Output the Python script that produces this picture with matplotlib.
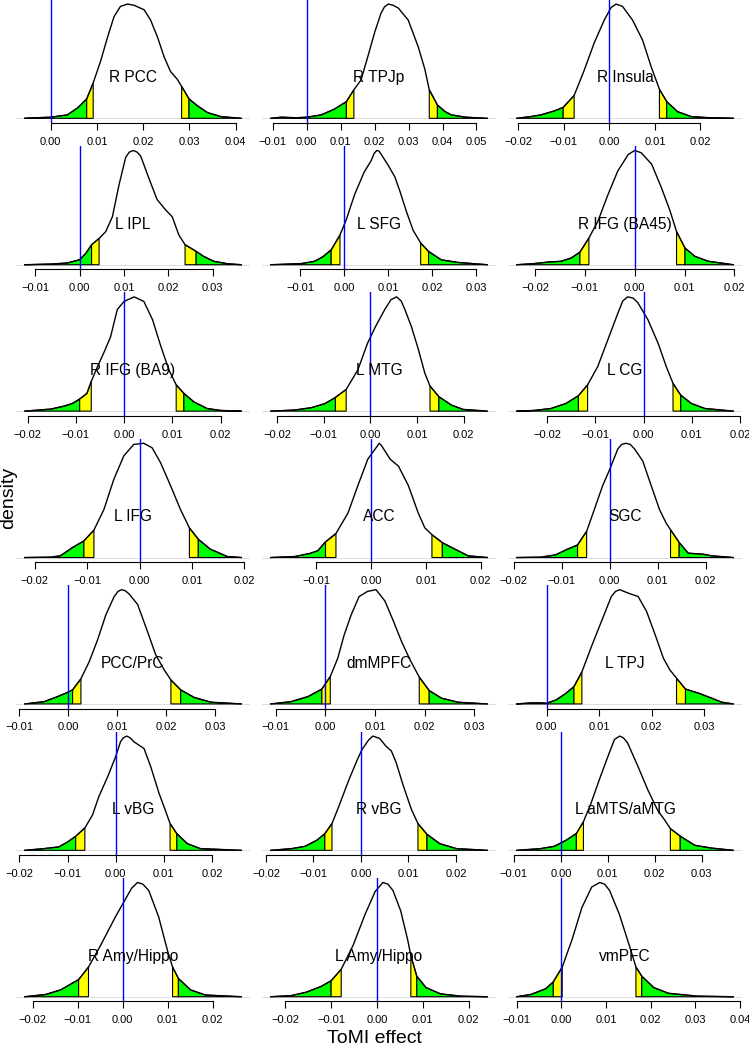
import numpy as np
import matplotlib
matplotlib.use("Agg")
import matplotlib.pyplot as plt
from matplotlib.ticker import FuncFormatter

plt.rcParams["font.family"] = ["Liberation Sans", "DejaVu Sans"]

# region labels, in reading order (3 per row)
labels = ["R PCC", "R TPJp", "R Insula", "L IPL", "L SFG", "R IFG (BA45)",
          "R IFG (BA9)", "L MTG", "L CG", "L IFG", "ACC", "SGC",
          "PCC/PrC", "dmMPFC", "L TPJ", "L vBG", "R vBG", "L aMTS/aMTG",
          "R Amy/Hippo", "L Amy/Hippo", "vmPFC"]

# observed effect (blue line)
observed = [0.0] * 21

# tail cut points: green | yellow ... yellow | green
q025 = [0.0078, 0.0117, -0.0101, 0.0027, -0.0030, -0.0110, -0.0092, -0.0075, -0.0135, -0.0106, -0.0083,
        -0.0067, 0.0009, -0.0007, 0.0052, -0.0083, -0.0076, 0.0033, -0.0098, -0.0100, -0.0018]
q05 = [0.0092, 0.0139, -0.0077, 0.0044, -0.0010, -0.0092, -0.0068, -0.0052, -0.0116, -0.0087, -0.0064,
       -0.0048, 0.0026, 0.0010, 0.0067, -0.0064, -0.0061, 0.0048, -0.0076, -0.0078, 0.0002]
q95 = [0.0283, 0.0361, 0.0110, 0.0238, 0.0174, 0.0084, 0.0108, 0.0128, 0.0061, 0.0095, 0.0111,
       0.0127, 0.0210, 0.0189, 0.0247, 0.0113, 0.0120, 0.0233, 0.0111, 0.0074, 0.0167]
q975 = [0.0299, 0.0385, 0.0126, 0.0263, 0.0192, 0.0101, 0.0124, 0.0147, 0.0077, 0.0112, 0.0130,
        0.0145, 0.0230, 0.0209, 0.0264, 0.0127, 0.0139, 0.0254, 0.0124, 0.0087, 0.0180]

# density curves (relative height, peak = 1)
R_PCC_X = [-0.0056, -0.0030, 0.0, 0.0036, 0.0058, 0.0078, 0.0092, 0.0108, 0.0123, 0.0137, 0.0151, 0.0166, 0.0180,
           0.0202, 0.0216, 0.0231, 0.0245, 0.0259, 0.0274, 0.0283, 0.0299, 0.0317, 0.0339, 0.0368, 0.0412]
R_PCC_D = [0, 0.005, 0.01, 0.03, 0.09, 0.17, 0.31, 0.50, 0.71, 0.89, 0.98, 1.0, 0.99,
           0.95, 0.86, 0.71, 0.54, 0.41, 0.34, 0.28, 0.17, 0.11, 0.05, 0.015, 0]

R_TPJP_X = [-0.0106, -0.0074, -0.0030, 0.0, 0.0043, 0.0081, 0.0117, 0.0139, 0.0160, 0.0181, 0.0201, 0.0219, 0.0229,
            0.0240, 0.0254, 0.0270, 0.0299, 0.0328, 0.0348, 0.0361, 0.0385, 0.0407, 0.0426, 0.0468, 0.0532]
R_TPJP_D = [0, 0.01, 0.005, 0.01, 0.03, 0.08, 0.146, 0.25, 0.335, 0.55, 0.76, 0.92, 0.975,
            1.0, 0.99, 0.965, 0.86, 0.63, 0.43, 0.25, 0.117, 0.06, 0.03, 0.01, 0]

R_INSULA_X = [-0.0203, -0.0173, -0.0150, -0.0121, -0.0101, -0.0077, -0.0055, -0.0033, -0.0011, 0.0004, 0.0015,
              0.0029, 0.0051, 0.0073, 0.0092, 0.0110, 0.0126, 0.0150, 0.0180, 0.0217, 0.0272]
R_INSULA_D = [0, 0.015, 0.03, 0.064, 0.096, 0.20, 0.42, 0.66, 0.86, 0.97, 1.0,
              0.98, 0.86, 0.685, 0.45, 0.254, 0.146, 0.058, 0.015, 0.006, 0]

L_IPL_X = [-0.0124, -0.0065, -0.0028, 0.0, 0.0014, 0.0027, 0.0044, 0.0059, 0.0074, 0.0089, 0.0104, 0.0112, 0.0121,
           0.0130, 0.0138, 0.0156, 0.0175, 0.0194, 0.0209, 0.0224, 0.0238, 0.0263, 0.0280, 0.0303, 0.0333, 0.0365]
L_IPL_D = [0, 0.006, 0.015, 0.044, 0.10, 0.175, 0.23, 0.29, 0.42, 0.70, 0.94, 0.985, 1.0,
           0.985, 0.95, 0.76, 0.57, 0.48, 0.42, 0.26, 0.175, 0.117, 0.073, 0.03, 0.009, 0]

L_SFG_X = [-0.0168, -0.0098, -0.0068, -0.0049, -0.0030, -0.0010, 0.0004, 0.0023, 0.0045, 0.0061, 0.0068, 0.0074,
           0.0079, 0.0085, 0.0100, 0.0115, 0.0127, 0.0142, 0.0157, 0.0174, 0.0192, 0.0221, 0.0259, 0.0326]
L_SFG_D = [0, 0.01, 0.03, 0.07, 0.13, 0.26, 0.39, 0.61, 0.81, 0.91, 0.975, 1.0,
           0.995, 0.96, 0.87, 0.77, 0.64, 0.46, 0.30, 0.19, 0.116, 0.043, 0.02, 0]

R_IFG45_X = [-0.0237, -0.0202, -0.0175, -0.0148, -0.0128, -0.0110, -0.0092, -0.0074, -0.0054, -0.0034, -0.0013,
             0.0, 0.0013, 0.0034, 0.0054, 0.0071, 0.0084, 0.0101, 0.0121, 0.0148, 0.0198]
R_IFG45_D = [0, 0.01, 0.023, 0.03, 0.058, 0.11, 0.234, 0.38, 0.61, 0.82, 0.965,
             1.0, 0.98, 0.88, 0.67, 0.47, 0.29, 0.146, 0.073, 0.03, 0]

R_IFG9_X = [-0.0206, -0.0152, -0.0124, -0.0107, -0.0092, -0.0077, -0.0068, -0.0055, -0.0041, -0.0028, -0.0014,
            0.0, 0.0021, 0.0041, 0.0059, 0.0076, 0.0093, 0.0108, 0.0124, 0.0145, 0.0172, 0.0200, 0.0243]
R_IFG9_D = [0, 0.018, 0.044, 0.067, 0.106, 0.155, 0.26, 0.39, 0.52, 0.65, 0.89,
            0.96, 1.0, 0.96, 0.80, 0.57, 0.36, 0.23, 0.155, 0.08, 0.023, 0.006, 0]

L_MTG_X = [-0.0214, -0.0162, -0.0127, -0.0098, -0.0075, -0.0052, -0.0027, -0.0006, 0.0011, 0.0031, 0.0044,
           0.0056, 0.0066, 0.0074, 0.0088, 0.0103, 0.0117, 0.0128, 0.0147, 0.0174, 0.0199, 0.0251]
L_MTG_D = [0, 0.01, 0.03, 0.065, 0.12, 0.19, 0.36, 0.595, 0.74, 0.89, 0.975,
           1.0, 0.965, 0.89, 0.74, 0.54, 0.33, 0.22, 0.126, 0.053, 0.015, 0]

L_CG_X = [-0.0263, -0.0227, -0.0192, -0.0161, -0.0135, -0.0116, -0.0095, -0.0074, -0.0053, -0.0043, -0.0033,
          -0.0022, -0.0012, 0.0009, 0.0030, 0.0047, 0.0061, 0.0077, 0.0099, 0.0127, 0.0186]
L_CG_D = [0, 0.006, 0.023, 0.067, 0.135, 0.23, 0.39, 0.625, 0.86, 0.965, 1.0,
          0.99, 0.95, 0.80, 0.595, 0.39, 0.243, 0.14, 0.067, 0.023, 0]

L_IFG_X = [-0.0219, -0.0170, -0.0151, -0.0128, -0.0106, -0.0087, -0.0068, -0.0049, -0.0030, -0.0011,
           0.0008, 0.0024, 0.0040, 0.0059, 0.0078, 0.0095, 0.0112, 0.0135, 0.0167, 0.0194]
L_IFG_D = [0, 0.003, 0.015, 0.087, 0.146, 0.24, 0.42, 0.685, 0.89, 0.99,
           1.0, 0.96, 0.83, 0.63, 0.42, 0.26, 0.16, 0.073, 0.009, 0]

ACC_X = [-0.0183, -0.0139, -0.0112, -0.0097, -0.0083, -0.0064, -0.0042, -0.0024, -0.0006, 0.0009, 0.0015,
         0.0019, 0.0035, 0.0050, 0.0068, 0.0086, 0.0098, 0.0111, 0.0130, 0.0153, 0.0177, 0.0212]
ACC_D = [0, 0.009, 0.035, 0.06, 0.137, 0.21, 0.39, 0.63, 0.86, 0.96, 1.0,
         0.98, 0.86, 0.80, 0.63, 0.39, 0.26, 0.20, 0.13, 0.073, 0.015, 0]

SGC_X = [-0.0194, -0.0144, -0.0113, -0.0088, -0.0067, -0.0048, -0.0032, -0.0015, 0.0, 0.0017, 0.0025, 0.0034,
         0.0043, 0.0052, 0.0069, 0.0087, 0.0104, 0.0118, 0.0127, 0.0145, 0.0164, 0.0195, 0.0213, 0.0258]
SGC_D = [0, 0.003, 0.023, 0.073, 0.11, 0.23, 0.42, 0.625, 0.77, 0.95, 0.99, 1.0,
         0.99, 0.95, 0.845, 0.625, 0.42, 0.30, 0.243, 0.132, 0.038, 0.029, 0.015, 0]

PCC_PRC_X = [-0.0089, -0.0049, -0.0022, -0.0005, 0.0009, 0.0026, 0.0043, 0.0060, 0.0077, 0.0094, 0.0102, 0.0109,
             0.0117, 0.0125, 0.0142, 0.0162, 0.0179, 0.0196, 0.0210, 0.0230, 0.0258, 0.0292, 0.0354]
PCC_PRC_D = [0, 0.02, 0.064, 0.094, 0.123, 0.22, 0.37, 0.56, 0.78, 0.94, 0.985, 1.0,
             0.99, 0.96, 0.87, 0.635, 0.43, 0.30, 0.21, 0.123, 0.056, 0.015, 0]

DMMPFC_X = [-0.0110, -0.0069, -0.0035, -0.0007, 0.0010, 0.0025, 0.0038, 0.0052, 0.0068, 0.0085,
            0.0102, 0.0120, 0.0137, 0.0153, 0.0170, 0.0189, 0.0209, 0.0234, 0.0267, 0.0326]
DMMPFC_D = [0, 0.02, 0.064, 0.13, 0.24, 0.40, 0.605, 0.78, 0.94, 0.985,
            1.0, 0.90, 0.725, 0.55, 0.39, 0.235, 0.117, 0.05, 0.015, 0]

L_TPJ_X = [-0.0057, -0.0030, -0.0011, 0.0, 0.0018, 0.0037, 0.0052, 0.0067, 0.0085, 0.0104, 0.0123, 0.0131, 0.0139,
           0.0155, 0.0174, 0.0190, 0.0206, 0.0222, 0.0234, 0.0247, 0.0264, 0.0289, 0.0314, 0.0333, 0.0355]
L_TPJ_D = [0, 0.009, 0.009, 0.006, 0.035, 0.094, 0.152, 0.28, 0.50, 0.72, 0.94, 0.985, 1.0,
           0.97, 0.94, 0.81, 0.61, 0.40, 0.30, 0.225, 0.13, 0.094, 0.05, 0.015, 0]

L_VBG_X = [-0.0189, -0.0149, -0.0118, -0.0100, -0.0083, -0.0064, -0.0048, -0.0035, -0.0017, 0.0, 0.0010, 0.0016,
           0.0023, 0.0030, 0.0038, 0.0059, 0.0073, 0.0090, 0.0104, 0.0113, 0.0127, 0.0149, 0.0176, 0.0261]
L_VBG_D = [0, 0.015, 0.03, 0.073, 0.123, 0.196, 0.31, 0.47, 0.64, 0.82, 0.95, 0.985,
           1.0, 0.985, 0.95, 0.89, 0.73, 0.50, 0.34, 0.234, 0.146, 0.058, 0.015, 0]

R_VBG_X = [-0.0190, -0.0146, -0.0118, -0.0093, -0.0076, -0.0061, -0.0047, -0.0026, -0.0008, 0.0002, 0.0016, 0.0025,
           0.0039, 0.0053, 0.0064, 0.0074, 0.0088, 0.0106, 0.0120, 0.0139, 0.0166, 0.0201, 0.0266]
R_VBG_D = [0, 0.015, 0.035, 0.088, 0.146, 0.234, 0.38, 0.61, 0.79, 0.88, 0.965, 1.0,
           0.98, 0.91, 0.87, 0.77, 0.58, 0.36, 0.234, 0.14, 0.058, 0.015, 0]

L_AMTS_X = [-0.0094, -0.0043, -0.0014, 0.0011, 0.0033, 0.0048, 0.0064, 0.0082, 0.0100, 0.0114, 0.0125,
            0.0133, 0.0142, 0.0164, 0.0185, 0.0206, 0.0221, 0.0233, 0.0254, 0.0285, 0.0320, 0.0367]
L_AMTS_D = [0, 0.015, 0.035, 0.088, 0.147, 0.25, 0.41, 0.62, 0.82, 0.97, 1.0,
            0.985, 0.94, 0.735, 0.53, 0.35, 0.265, 0.19, 0.124, 0.044, 0.02, 0]

R_AMY_X = [-0.0218, -0.0171, -0.0138, -0.0098, -0.0076, -0.0049, -0.0016, 0.0007, 0.0020, 0.0033, 0.0045,
           0.0058, 0.0080, 0.0100, 0.0111, 0.0124, 0.0151, 0.0184, 0.0264]
R_AMY_D = [0, 0.02, 0.06, 0.15, 0.26, 0.45, 0.70, 0.86, 0.95, 1.0, 0.985,
           0.93, 0.70, 0.40, 0.26, 0.16, 0.06, 0.015, 0]

L_AMY_X = [-0.0232, -0.0187, -0.0154, -0.0122, -0.0100, -0.0078, -0.0052, -0.0026, -0.0004, 0.0013, 0.0024,
           0.0035, 0.0052, 0.0067, 0.0074, 0.0087, 0.0107, 0.0139, 0.0183, 0.0241]
L_AMY_D = [0, 0.01, 0.04, 0.09, 0.14, 0.24, 0.45, 0.72, 0.92, 1.0, 0.985,
           0.93, 0.75, 0.50, 0.36, 0.18, 0.08, 0.025, 0.005, 0]

VMPFC_X = [-0.0100, -0.0068, -0.0035, -0.0018, 0.0002, 0.0024, 0.0046, 0.0068, 0.0086, 0.0097, 0.0108, 0.0130,
           0.0152, 0.0167, 0.0180, 0.0207, 0.0240, 0.0305, 0.0385]
VMPFC_D = [0, 0.02, 0.07, 0.13, 0.26, 0.50, 0.78, 0.96, 1.0, 0.985, 0.93, 0.72,
           0.45, 0.26, 0.18, 0.08, 0.03, 0.005, 0]

curves = [(R_PCC_X, R_PCC_D), (R_TPJP_X, R_TPJP_D), (R_INSULA_X, R_INSULA_D),
          (L_IPL_X, L_IPL_D), (L_SFG_X, L_SFG_D), (R_IFG45_X, R_IFG45_D),
          (R_IFG9_X, R_IFG9_D), (L_MTG_X, L_MTG_D), (L_CG_X, L_CG_D),
          (L_IFG_X, L_IFG_D), (ACC_X, ACC_D), (SGC_X, SGC_D),
          (PCC_PRC_X, PCC_PRC_D), (DMMPFC_X, DMMPFC_D), (L_TPJ_X, L_TPJ_D),
          (L_VBG_X, L_VBG_D), (R_VBG_X, R_VBG_D), (L_AMTS_X, L_AMTS_D),
          (R_AMY_X, R_AMY_D), (L_AMY_X, L_AMY_D), (VMPFC_X, VMPFC_D)]


def shade(ax, x, d, a, b, color):
    """Fill area under the curve between a and b (R polygon style)."""
    inside = (x > a) & (x < b)
    xs = np.concatenate([[a], x[inside], [b]])
    ys = np.concatenate([[np.interp(a, x, d)], d[inside], [np.interp(b, x, d)]])
    px = np.concatenate([xs, [b, a]])
    py = np.concatenate([ys, [0, 0]])
    ax.fill(px, py, facecolor=color, edgecolor="black", lw=0.8, zorder=2)


W, H = 749, 1050
fig = plt.figure(figsize=(W / 100, H / 100), dpi=100)

col_left = [16, 262, 508]
pw, ph = 234, 123.4
fmt = FuncFormatter(lambda v, p: f"{v:.2f}".replace("-", "\u2212"))

for i, (cx, cd) in enumerate(curves):
    r, c = divmod(i, 3)
    top = 146.4 * r - 0.5
    ax = fig.add_axes([col_left[c] / W, 1 - (top + ph) / H, pw / W, ph / H])
    x = np.array(cx)
    d = np.array(cd)

    span = x[-1] - x[0]
    xlim = (x[0] - 0.04 * span, x[-1] + 0.04 * span)
    ax.set_xlim(xlim)
    ax.set_ylim(-0.04, 1.04)

    ax.axhline(0, color="#d8d8d8", lw=0.6, zorder=1)
    shade(ax, x, d, x[0], q025[i], "#00ff00")
    shade(ax, x, d, q025[i], q05[i], "#ffff00")
    shade(ax, x, d, q95[i], q975[i], "#ffff00")
    shade(ax, x, d, q975[i], x[-1], "#00ff00")
    ax.plot(x, d, color="black", lw=1.0, zorder=3)
    ax.axvline(observed[i], color="#0000ff", lw=1.0, zorder=4)

    ax.text(np.mean(xlim), 0.355, labels[i], ha="center", va="center", fontsize=11.2, zorder=5)

    k0 = int(np.ceil(xlim[0] / 0.01 - 1e-6))
    k1 = int(np.floor(xlim[1] / 0.01 + 1e-6))
    ticks = [round(k * 0.01, 2) + 0.0 for k in range(k0, k1 + 1)]
    ax.set_xticks(ticks)
    ax.xaxis.set_major_formatter(fmt)
    ax.set_yticks([])
    for s in ["top", "left", "right"]:
        ax.spines[s].set_visible(False)
    ax.spines["bottom"].set_bounds(ticks[0], ticks[-1])
    ax.spines["bottom"].set_linewidth(0.8)
    ax.tick_params(axis="x", direction="out", length=5, width=0.8, pad=5, labelsize=8)
    ax.patch.set_alpha(0)

fig.text(0.012, 0.526, "density", rotation=90, ha="center", va="center", fontsize=14)
fig.text(0.5, 0.011, "ToMI effect", ha="center", va="center", fontsize=14)

fig.savefig("out.png", dpi=100)
